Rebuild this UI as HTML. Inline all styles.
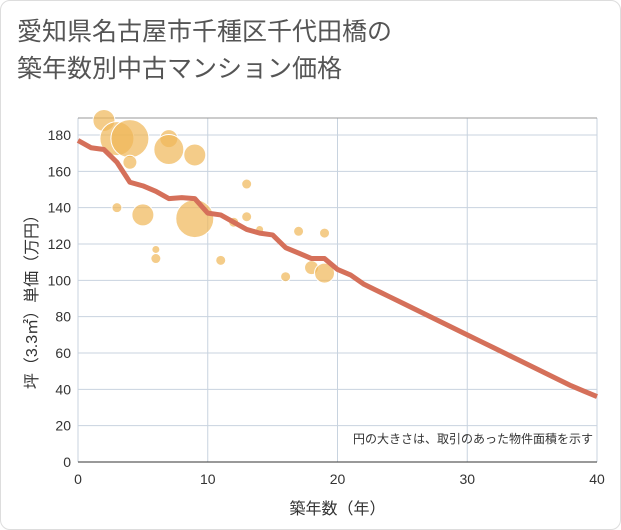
<!DOCTYPE html>
<html><head><meta charset="utf-8">
<style>
body{margin:0;background:#fff;font-family:"Liberation Sans","Noto Sans CJK JP",sans-serif;}
#card{position:absolute;left:0;top:0;width:619px;height:528px;border:1px solid #ddd;border-radius:10px;background:#fff;}
#title{position:absolute;left:17px;top:14px;font-size:25px;line-height:37px;color:#555;}
</style></head><body>
<div id="card"></div>
<div id="title">愛知県名古屋市千種区千代田橋の<br>築年数別中古マンション価格</div>
<svg id="chart" width="621" height="530" style="position:absolute;left:0;top:0"></svg>
<script>
const lineYears=[0,1,2,3,4,5,6,7,8,9,10,11,12,13,14,15,16,17,18,19,20,21,22,23,24,25,26,27,28,29,30,31,32,33,34,35,36,37,38,39,40];
const linePrices=[177,173,172,165,154,152,149,145,145.5,145,137,136,132,128,126,125,118,115,112,112,106,103,98,94.5,91,87.5,84,80.5,77,73.5,70,66.5,63,59.5,56,52.5,49,45.5,42,39,36];
const bubbleYears=[2,3,4,4,3,5,6,6,7,7,9,9,11,12,13,13,14,16,17,18,19,19];
const bubblePrices=[188,178,178,165,140,136,117,112,178,172,169,134,111,132,153,135,128,102,127,107,126,104];
const bubbleSizes=[11,17,19,7,5,11,4,5,9,15,11,19,5,5,5,5,4,5,5,7,5,10];
const yTicks=[0,20,40,60,80,100,120,140,160,180];
const xTicks=[0,10,20,30,40];
const NS="http://www.w3.org/2000/svg";
const chartSvg=document.getElementById('chart');
const X0=78,X1=597,Y0=462,Y1=135;
const sx=v=>X0+(X1-X0)*v/40;
const sy=v=>Y0-(Y0-Y1)*v/180;
function mk(t,a){const e=document.createElementNS(NS,t);for(const k in a)e.setAttribute(k,a[k]);chartSvg.appendChild(e);return e;}
const plotBg=mk('rect',{x:X0,y:118,width:X1-X0,height:Y0-118,fill:'#fff'});


for(const t of yTicks){
  const l=mk('line',{x1:X0,x2:X1,y1:sy(t),y2:sy(t),stroke:'#c8d3df','stroke-width':1});
  
  
  const tx=mk('text',{x:X0-7,y:sy(t)+5,'text-anchor':'end','font-size':14,fill:'#333'});
  tx.textContent=t;
  
  
}
for(const t of xTicks){
  const l=mk('line',{x1:sx(t),x2:sx(t),y1:118,y2:Y0,stroke:'#c8d3df','stroke-width':1});
  
  
  const tx=mk('text',{x:sx(t),y:Y0+22,'text-anchor':'middle','font-size':14,fill:'#333'});
  tx.textContent=t;
  
  
}
const topBorder=mk('line',{x1:X0,x2:X1,y1:118,y2:118,stroke:'#999','stroke-width':1});


const xAxisLine=mk('line',{x1:X0,x2:X1,y1:Y0,y2:Y0,stroke:'#333','stroke-width':1});


for(let i=0;i<bubbleYears.length;i++){
  const c=mk('circle',{cx:sx(bubbleYears[i]),cy:sy(bubblePrices[i]),r:bubbleSizes[i],fill:'#f0b657','fill-opacity':0.7,stroke:'#fff','stroke-width':1});
  
  
}
const pts=lineYears.map((y,i)=>sx(y)+','+sy(linePrices[i])).join(' ');
const priceLine=mk('polyline',{points:pts,fill:'none',stroke:'#d5705a','stroke-width':5,'stroke-linejoin':'round'});


const noteText=mk('text',{x:593,y:443,'text-anchor':'end','font-size':12,fill:'#333'});
noteText.textContent='円の大きさは、取引のあった物件面積を示す';


const xTitle=mk('text',{x:sx(20),y:514,'text-anchor':'middle','font-size':16,fill:'#333'});
xTitle.textContent='築年数（年）';


const yTitle=mk('text',{x:0,y:0,'text-anchor':'middle','font-size':16,fill:'#333',transform:'translate(37,298) rotate(-90)'});
yTitle.textContent='坪（3.3㎡）単価（万円）';


</script>
</body></html>
